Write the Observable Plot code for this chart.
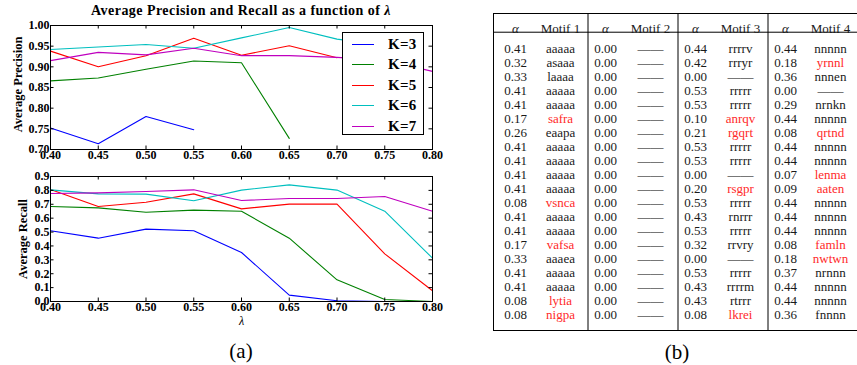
<!DOCTYPE html>
<html><head><meta charset="utf-8">
<script src="https://cdn.jsdelivr.net/npm/d3@7"></script>
<script src="https://cdn.jsdelivr.net/npm/@observablehq/plot@0.6"></script>
<style>
html,body{margin:0;padding:0;background:#fff;overflow:hidden;width:857px;height:365px;}
#root{position:relative;width:857px;height:365px;font-family:"Liberation Serif",serif;color:#000;}
.abs{position:absolute;}
#title{left:0;width:482px;top:3px;text-align:center;font-weight:bold;font-size:14px;letter-spacing:0.45px;white-space:nowrap;}
#legend{left:342px;top:32px;width:82px;height:103px;border:1px solid #000;background:#fff;box-sizing:border-box;}
.lrow{position:absolute;left:0;height:20px;width:80px;}
.lline{position:absolute;left:9px;width:22px;top:10px;height:0;border-top:1.5px solid;}
.ltext{position:absolute;left:45px;top:0;font-weight:bold;font-size:15px;line-height:20px;letter-spacing:0.3px;}
.cap{font-size:21px;line-height:24px;text-align:center;width:60px;}
g[aria-label="dash"] text{letter-spacing:-8px;}
g[aria-label="ylabel"] text{letter-spacing:0.6px;}
</style></head>
<body><div id="root"></div>
<script>
// ---------- chart data ----------
const lambdas = [0.40, 0.45, 0.50, 0.55, 0.60, 0.65, 0.70, 0.75, 0.80];
const kLabels = ["K=3", "K=4", "K=5", "K=6", "K=7"];
const kColors = ["#0000ff", "#008000", "#ff0000", "#00bfbf", "#bf00bf"];

const precisionK3 = [0.752, 0.714, 0.780, 0.748, null, null, null, null, null];
const precisionK4 = [0.866, 0.873, 0.894, 0.914, 0.910, 0.727, null, null, null];
const precisionK5 = [0.938, 0.900, 0.927, 0.969, 0.928, 0.951, 0.922, null, null];
const precisionK6 = [0.942, 0.948, 0.954, 0.945, 0.970, 0.995, 0.967, 0.952, null];
const precisionK7 = [0.915, 0.935, 0.929, 0.945, 0.927, 0.927, 0.923, 0.916, 0.889];

const recallK3 = [0.509, 0.456, 0.521, 0.509, 0.353, 0.046, 0.005, 0.000, 0.000];
const recallK4 = [0.684, 0.674, 0.643, 0.658, 0.650, 0.456, 0.156, 0.014, 0.000];
const recallK5 = [0.806, 0.684, 0.715, 0.775, 0.667, 0.701, 0.701, 0.343, 0.077];
const recallK6 = [0.804, 0.775, 0.773, 0.725, 0.802, 0.840, 0.802, 0.650, 0.312];
const recallK7 = [0.778, 0.782, 0.792, 0.804, 0.727, 0.742, 0.742, 0.756, 0.650];

const xTicks = [0.40, 0.45, 0.50, 0.55, 0.60, 0.65, 0.70, 0.75, 0.80];
const precisionTicks = [0.70, 0.75, 0.80, 0.85, 0.90, 0.95, 1.00];
const recallTicks = [0.0, 0.1, 0.2, 0.3, 0.4, 0.5, 0.6, 0.7, 0.8, 0.9];

// ---------- table data ----------
const tableHeaders = ["α", "Motif 1", "α", "Motif 2", "α", "Motif 3", "α", "Motif 4"];
const alpha1 = ["0.41","0.32","0.33","0.41","0.41","0.17","0.26","0.41","0.41","0.41","0.41","0.08","0.41","0.41","0.17","0.33","0.41","0.41","0.08","0.08"];
const motif1 = ["aaaaa","asaaa","laaaa","aaaaa","aaaaa","safra","eaapa","aaaaa","aaaaa","aaaaa","aaaaa","vsnca","aaaaa","aaaaa","vafsa","aaaea","aaaaa","aaaaa","lytia","nigpa"];
const alpha2 = ["0.00","0.00","0.00","0.00","0.00","0.00","0.00","0.00","0.00","0.00","0.00","0.00","0.00","0.00","0.00","0.00","0.00","0.00","0.00","0.00"];
const motif2 = ["—","—","—","—","—","—","—","—","—","—","—","—","—","—","—","—","—","—","—","—"];
const alpha3 = ["0.44","0.42","0.00","0.53","0.53","0.10","0.21","0.53","0.53","0.00","0.20","0.53","0.43","0.53","0.32","0.00","0.53","0.43","0.43","0.08"];
const motif3 = ["rrrrv","rrryr","—","rrrrr","rrrrr","anrqv","rgqrt","rrrrr","rrrrr","—","rsgpr","rrrrr","rnrrr","rrrrr","rrvry","—","rrrrr","rrrrm","rtrrr","lkrei"];
const alpha4 = ["0.44","0.18","0.36","0.00","0.29","0.44","0.08","0.44","0.44","0.07","0.09","0.44","0.44","0.44","0.08","0.18","0.37","0.44","0.44","0.36"];
const motif4 = ["nnnnn","yrnnl","nnnen","—","nrnkn","nnnnn","qrtnd","nnnnn","nnnnn","lenma","aaten","nnnnn","nnnnn","nnnnn","famln","nwtwn","nrnnn","nnnnn","nnnnn","fnnnn"];
// rows (1-based) whose motif is highlighted in red
const highlight1 = [6, 12, 15, 19, 20];
const highlight2 = [];
const highlight3 = [6, 7, 11, 20];
const highlight4 = [2, 7, 10, 11, 15, 16];

// ---------- helpers ----------
const FONT = "'Liberation Serif', serif";
const root = document.getElementById("root");
function place(node, left, topPx) {
  node.style.position = "absolute";
  node.style.left = left + "px";
  node.style.top = topPx + "px";
  root.appendChild(node);
  return node;
}
function longForm(series) {
  return series.flatMap((vals, i) => vals.map((v, j) => ({lambda: lambdas[j], value: v, K: kLabels[i]})));
}

function lineChart({series, yDomain, yTicks, yFmt, width, height, mL, mR, mT, mB, ylabel, ylabelDx, ylabelDy = 0, extra = []}) {
  const iw = width - mL - mR, ih = height - mT - mB, t = 3.5;
  return Plot.plot({
    width, height, marginLeft: mL, marginRight: mR, marginTop: mT, marginBottom: mB,
    style: {fontFamily: FONT, fontSize: "12px", fontWeight: "bold", background: "transparent", overflow: "visible", color: "#000"},
    x: {domain: [0.4, 0.8], axis: null},
    y: {domain: yDomain, axis: null},
    color: {domain: kLabels, range: kColors},
    marks: [
      Plot.line(longForm(series), {x: "lambda", y: "value", stroke: "K", z: "K", strokeWidth: 1.1}),
      Plot.tickX(xTicks, {x: d => d, insetTop: ih - t, stroke: "#000"}),
      Plot.tickX(xTicks, {x: d => d, insetBottom: ih - t, stroke: "#000"}),
      Plot.tickY(yTicks, {y: d => d, insetRight: iw - t, stroke: "#000"}),
      Plot.tickY(yTicks, {y: d => d, insetLeft: iw - t, stroke: "#000"}),
      Plot.axisX(xTicks, {tickSize: 0, tickPadding: 1, tickFormat: d3.format(".2f"), label: null, fontFamily: FONT, fontSize: 12, fontWeight: "bold", fill: "#000"}),
      Plot.axisY(yTicks, {tickSize: 0, tickPadding: 1, tickFormat: d3.format(yFmt), label: null, fontFamily: FONT, fontSize: 12, fontWeight: "bold", fill: "#000"}),
      Plot.frame({stroke: "#000", strokeWidth: 1}),
      Plot.text([ylabel], {text: d => d, frameAnchor: "left", textAnchor: "middle", lineAnchor: "middle", rotate: -90, dx: ylabelDx, dy: ylabelDy, fontFamily: FONT, fontSize: 12.5, fontWeight: "bold", fill: "#000", ariaLabel: "ylabel"}),
      ...extra
    ]
  });
}

// ---------- top chart: precision ----------
const precisionChart = lineChart({
  series: [precisionK3, precisionK4, precisionK5, precisionK6, precisionK7],
  yDomain: [0.70, 1.00], yTicks: precisionTicks, yFmt: ".2f",
  width: 450, height: 170, mL: 50, mR: 18, mT: 25, mB: 21,
  ylabel: "Average Precision", ylabelDx: -33, ylabelDy: -3
});
place(precisionChart, 0, 0);

// ---------- bottom chart: recall ----------
const recallChart = lineChart({
  series: [recallK3, recallK4, recallK5, recallK6, recallK7],
  yDomain: [0.0, 0.9], yTicks: recallTicks, yFmt: ".1f",
  width: 450, height: 200, mL: 50, mR: 18, mT: 16, mB: 59,
  ylabel: "Average Recall", ylabelDx: -28,
  extra: [Plot.text(["λ"], {text: d => d, frameAnchor: "bottom", dy: 23, fontFamily: FONT, fontSize: 12, fontWeight: "normal", fontStyle: "italic", fill: "#000"})]
});
place(recallChart, 0, 160);

// ---------- title & legend ----------
const titleDiv = document.createElement("div");
titleDiv.className = "abs"; titleDiv.id = "title";
titleDiv.innerHTML = "Average Precision and Recall as a function of <i>λ</i>";
root.appendChild(titleDiv);

const legendDiv = document.createElement("div");
legendDiv.className = "abs"; legendDiv.id = "legend";
kLabels.forEach((k, i) => {
  const row = document.createElement("div");
  row.className = "lrow";
  row.style.top = (1 + i * 20.4) + "px";
  const ln = document.createElement("div");
  ln.className = "lline"; ln.style.borderTopColor = kColors[i];
  const tx = document.createElement("div");
  tx.className = "ltext"; tx.textContent = k;
  row.appendChild(ln); row.appendChild(tx);
  legendDiv.appendChild(row);
});
root.appendChild(legendDiv);

// ---------- table (drawn with Plot) ----------
const colKeys = ["a1", "m1", "a2", "m2", "a3", "m3", "a4", "m4"];
const colValues = [alpha1, motif1, alpha2, motif2, alpha3, motif3, alpha4, motif4];
const colHighlights = [[], highlight1, [], highlight2, [], highlight3, [], highlight4];
const rowIdx = d3.range(alpha1.length);
const cells = colKeys.flatMap((c, ci) => colValues[ci].map((v, r) => ({
  col: c, row: r, text: v, dash: v === "—",
  fill: colHighlights[ci].includes(r + 1) ? "#ff2a2a" : "#1a1a1a"
})));
const headerCells = tableHeaders.map((h, i) => ({col: colKeys[i], text: h, greek: h === "α"}));

const tW = 380, tH = 365, tML = 6, tMR = 7, tMT = 13, tMB = 35;
const headerH = 18.7;
const tableChart = Plot.plot({
  width: tW, height: tH, marginLeft: tML, marginRight: tMR, marginTop: tMT, marginBottom: tMB,
  style: {fontFamily: FONT, fontSize: "13px", background: "transparent", overflow: "visible", color: "#000"},
  x: {type: "point", domain: colKeys, range: [24.7, 346], padding: 0, axis: null},
  y: {type: "band", domain: rowIdx, range: [tMT + headerH, tH - tMB], padding: 0, axis: null},
  color: {type: "identity"},
  marks: [
    Plot.frame({stroke: "#000", strokeWidth: 1}),
    Plot.frame({stroke: "#000", strokeWidth: 1, insetBottom: (tH - tMT - tMB) - headerH}),
    Plot.ruleX(["a2", "a3", "a4"], {x: d => d, dx: -17.5, stroke: "#000", strokeWidth: 1}),
    Plot.text(headerCells.filter(d => d.greek), {x: "col", text: "text", frameAnchor: "top", textAnchor: "middle", dy: 10, fontFamily: FONT, fontStyle: "italic", fontSize: 13, fill: "#1a1a1a"}),
    Plot.text(headerCells.filter(d => !d.greek), {x: "col", text: "text", frameAnchor: "top", textAnchor: "middle", dy: 10, fontFamily: FONT, fontSize: 13, fill: "#1a1a1a"}),
    Plot.text(cells.filter(d => !d.dash), {x: "col", y: "row", text: "text", fill: "fill", fontFamily: FONT, fontSize: 13}),
    Plot.text(cells.filter(d => d.dash), {x: "col", y: "row", text: d => d.text + d.text, fill: "#000", fontFamily: FONT, fontSize: 13, ariaLabel: "dash"})
  ]
});
place(tableChart, 487, 0);

// ---------- captions ----------
const capA = document.createElement("div");
capA.className = "abs cap"; capA.textContent = "(a)";
capA.style.left = "211px"; capA.style.top = "339px";
root.appendChild(capA);
const capB = document.createElement("div");
capB.className = "abs cap"; capB.textContent = "(b)";
capB.style.left = "647px"; capB.style.top = "340px";
root.appendChild(capB);
</script>
</body></html>
